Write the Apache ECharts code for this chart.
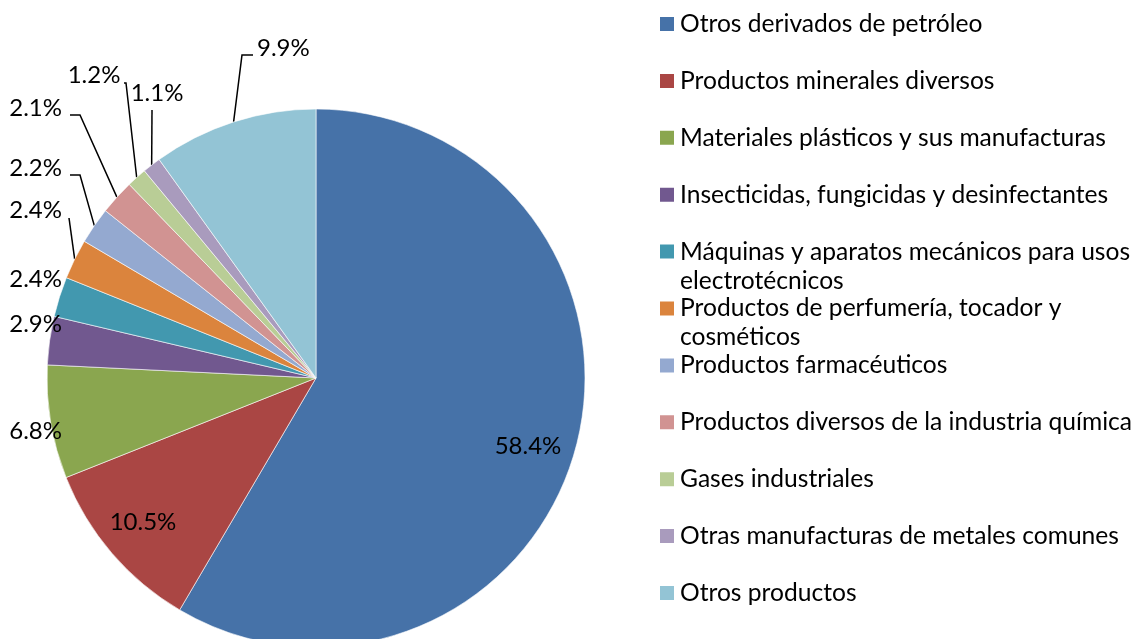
<!DOCTYPE html>
<html lang="es">
<head>
<meta charset="UTF-8">
<title>Exportaciones por producto</title>
<script src="https://cdn.jsdelivr.net/npm/echarts@6/dist/echarts.min.js"></script>
<style>
    html, body { margin: 0; padding: 0; background: #fff; }
    #pie { width: 1138px; height: 639px; }
</style>
</head>
<body>
<div id="pie"></div>
<script>
    var productos = [
        'Otros derivados de petróleo',
        'Productos minerales diversos',
        'Materiales plásticos y sus manufacturas',
        'Insecticidas, fungicidas y desinfectantes',
        'Máquinas y aparatos mecánicos para usos electrotécnicos',
        'Productos de perfumería, tocador y cosméticos',
        'Productos farmacéuticos',
        'Productos diversos de la industria química',
        'Gases industriales',
        'Otras manufacturas de metales comunes',
        'Otros productos'
    ];
    var porcentajes = [58.4, 10.5, 6.8, 2.9, 2.4, 2.4, 2.2, 2.1, 1.2, 1.1, 9.9];
    var colores = ['#4672A8', '#AA4644', '#8AA64F', '#71588F', '#4298AF', '#DB843D',
        '#94A9D0', '#D19392', '#B9CD96', '#A99BBD', '#93C4D5'];

    // nombres largos que la leyenda parte en dos líneas
    var cortes = {
        4: ['Máquinas y aparatos mecánicos para usos', 'electrotécnicos'],
        5: ['Productos de perfumería, tocador y', 'cosméticos']
    };

    // sitio de cada etiqueta: [x, y, alineación]
    var etiquetas = [
        [528, 446, 'center'],
        [143, 522, 'center'],
        [62, 431, 'right'],
        [62, 324, 'right'],
        [62, 279, 'right'],
        [62, 210, 'right'],
        [62, 168, 'right'],
        [62, 108, 'right'],
        [94, 75, 'center'],
        [157, 93, 'center'],
        [257, 48, 'left']
    ];
    // líneas guía: [codo x, codo y, fin x, fin y]
    var guias = [null, null, null, null, null,
        [69, 218, 69, 218],
        [80, 175, 70, 175],
        [80, 115, 70, 115],
        [126, 83, 124, 83],
        [152, 110, 152, 110],
        [242, 55, 253, 55]
    ];

    var fuente = 'Lato, "Open Sans", sans-serif';
    var linea = 29;

    var leyendas = productos.map(function (nombre, i) {
        var partido = cortes[i];
        return {
            orient: 'vertical',
            left: 658,
            // la línea vacía de arriba cuenta en la caja, por eso se sube
            top: 24 + i * 56.9 - 14.5 - (partido ? linea : 0),
            padding: 0,
            itemWidth: 16,
            itemHeight: 16,
            icon: 'rect',
            selectedMode: false,
            data: [nombre],
            // línea vacía arriba para que la primera línea quede a la altura del cuadro
            formatter: partido ? '\n' + partido.join('\n') : '{name}',
            textStyle: {
                color: '#000',
                fontFamily: fuente,
                fontSize: 24.6,
                lineHeight: linea
            }
        };
    });

    var datos = porcentajes.map(function (v, i) {
        return {
            name: productos[i],
            value: v,
            itemStyle: { color: colores[i] },
            labelLine: { show: !!guias[i] }
        };
    });

    var option = {
        animation: false,
        backgroundColor: '#fff',
        legend: leyendas,
        series: [{
            type: 'pie',
            center: [316, 378],
            radius: 269,
            startAngle: 90,
            clockwise: true,
            avoidLabelOverlap: false,
            emphasis: { disabled: true },
            itemStyle: { borderColor: '#fff', borderWidth: 0.6 },
            label: {
                show: true,
                position: 'outside',
                color: '#000',
                fontFamily: fuente,
                fontSize: 24,
                width: 90,
                overflow: 'none',
                formatter: function (p) { return p.value.toFixed(1) + '%'; }
            },
            labelLine: {
                length: 0,
                length2: 0,
                lineStyle: { color: '#000', width: 1.5 }
            },
            labelLayout: function (p) {
                var e = etiquetas[p.dataIndex];
                var res = { x: e[0], y: e[1], align: e[2], verticalAlign: 'middle' };
                var g = guias[p.dataIndex];
                if (g && p.labelLinePoints) {
                    res.labelLinePoints = [p.labelLinePoints[0], [g[0], g[1]], [g[2], g[3]]];
                }
                return res;
            },
            data: datos
        }]
    };

    var myChart = echarts.init(document.getElementById('pie'));
    myChart.setOption(option);
</script>
</body>
</html>
